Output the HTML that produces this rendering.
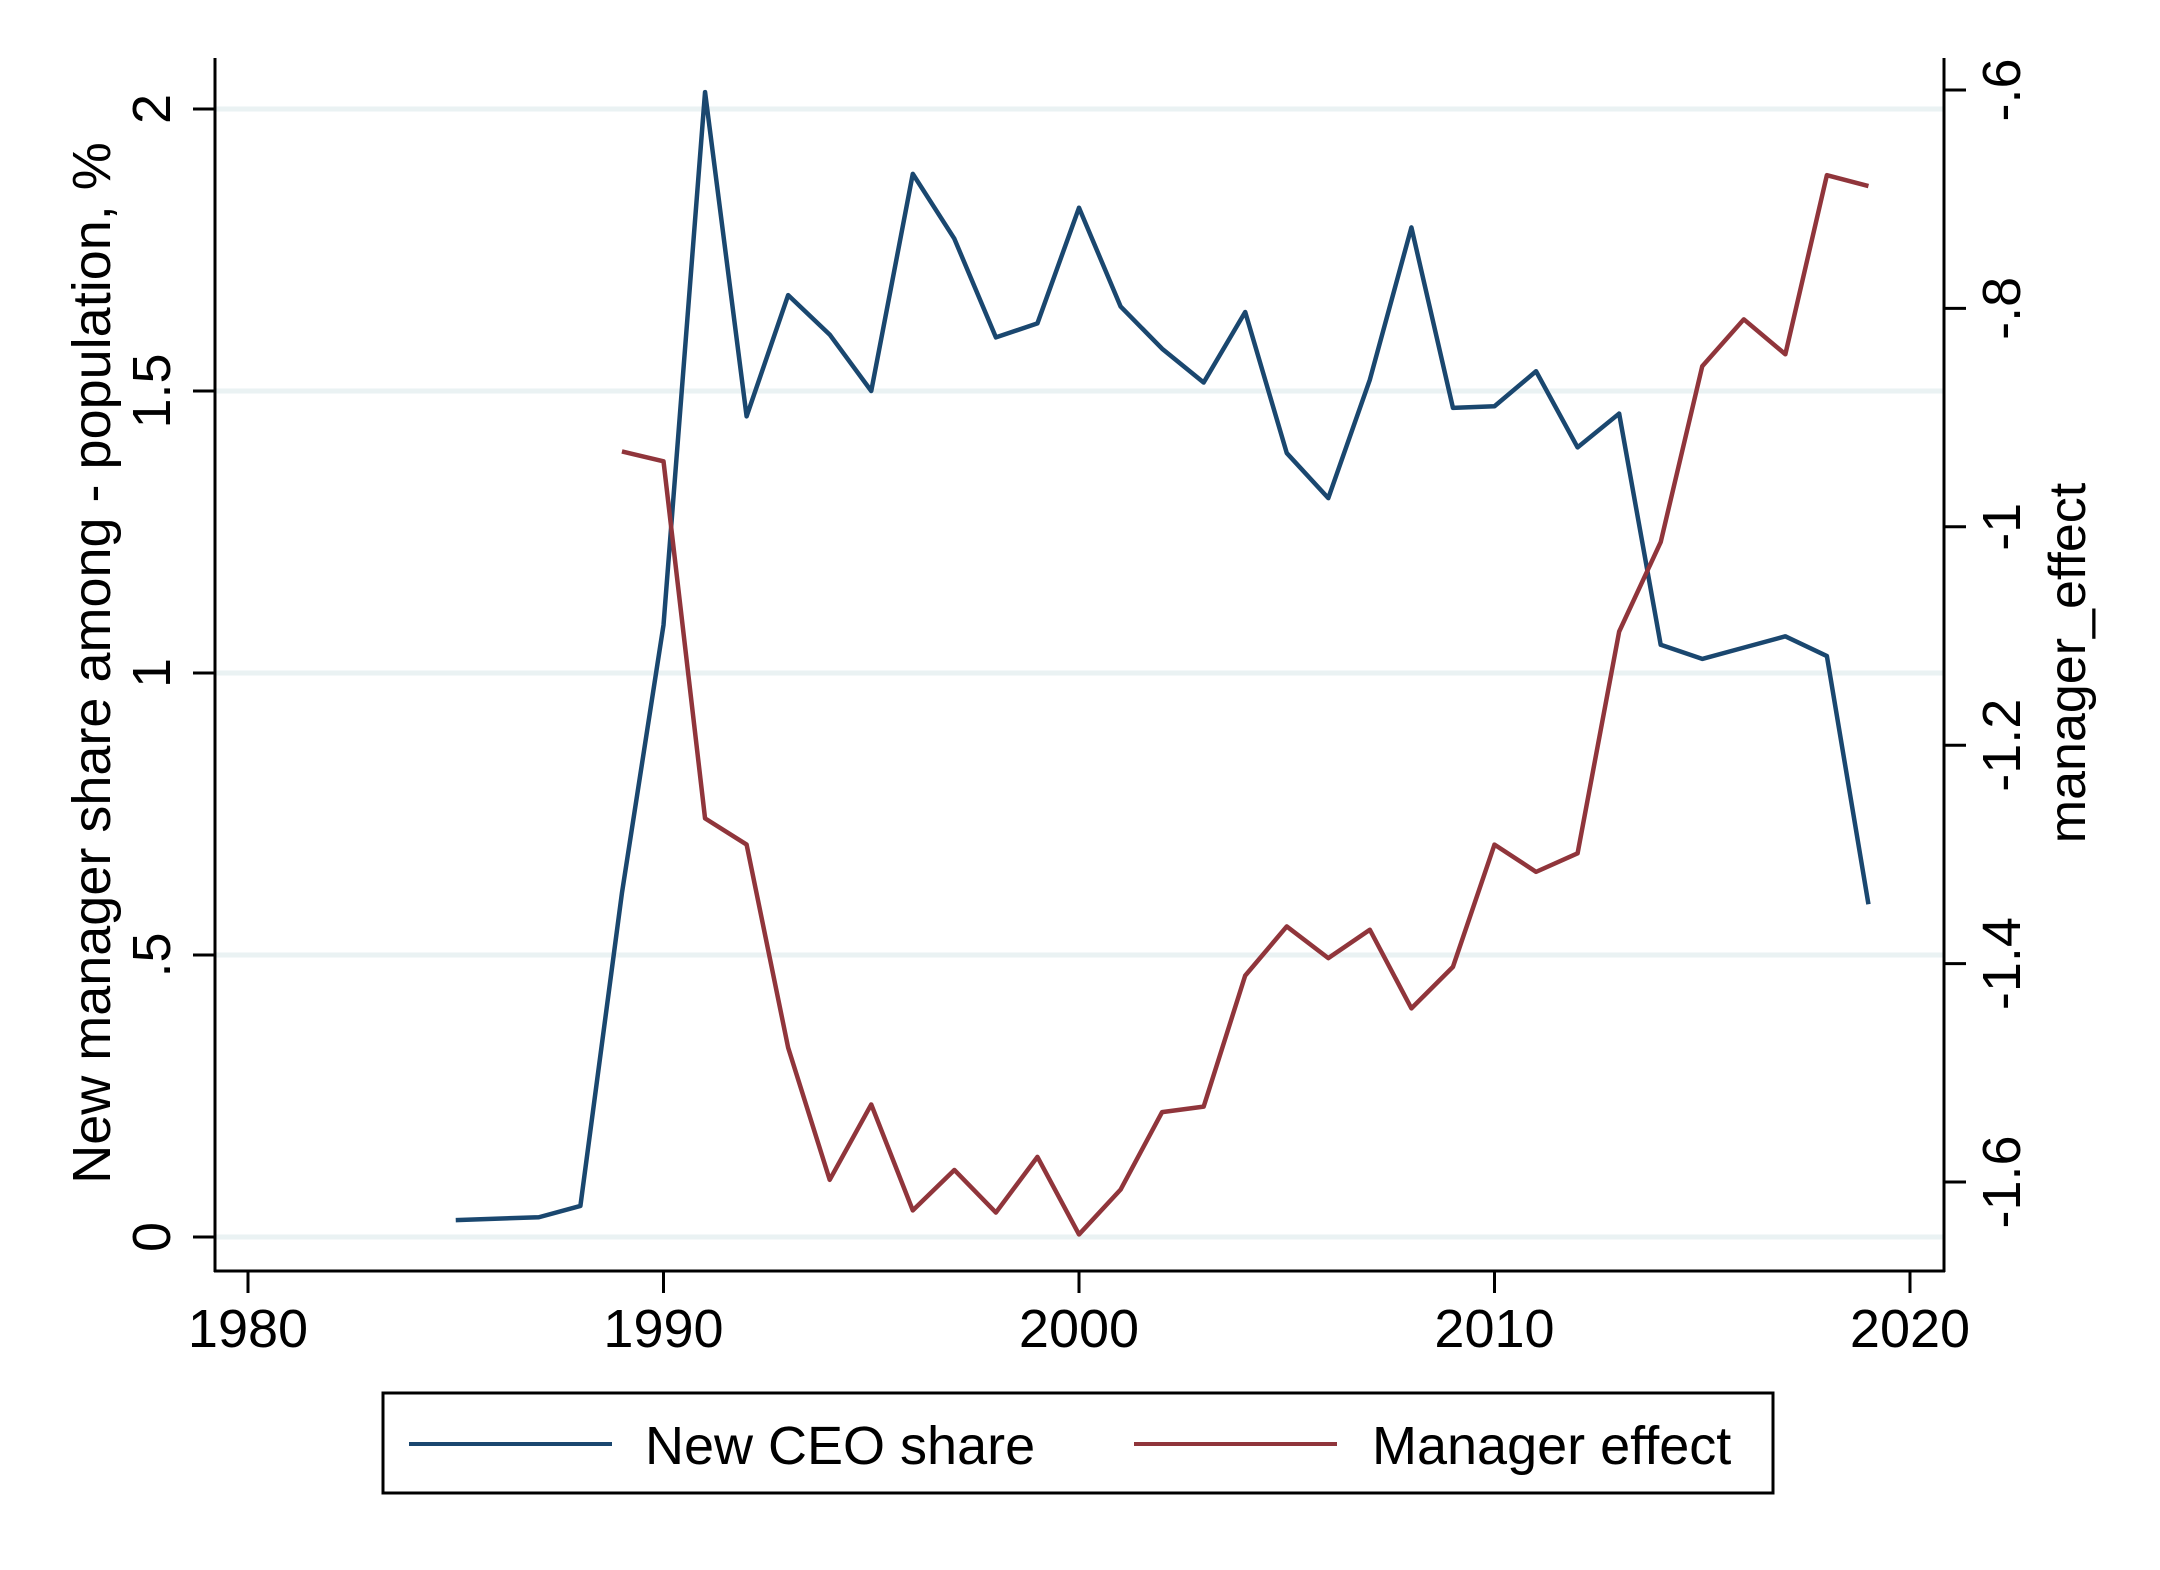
<!DOCTYPE html>
<html><head><meta charset="utf-8">
<style>html,body{margin:0;padding:0;background:#fff}svg{display:block}text{font-family:"Liberation Sans",Arial,sans-serif;fill:#000}</style>
</head><body>
<svg id="chart" width="2160" height="1570" viewBox="0 0 2160 1570" xmlns="http://www.w3.org/2000/svg">
<rect x="0" y="0" width="2160" height="1570" fill="#fff"/>
<g id="grid"></g>
<g id="axes"></g>
<g id="series"></g>
<g id="legend">
<rect x="383" y="1393" width="1390" height="100" fill="none" stroke="#000" stroke-width="3"/>
<line x1="409" y1="1444" x2="612" y2="1444" stroke="#1a476f" stroke-width="4"/>
<text x="645" y="1464" font-size="54">New CEO share</text>
<line x1="1134" y1="1444" x2="1337" y2="1444" stroke="#90353b" stroke-width="4"/>
<text x="1372" y="1464" font-size="54">Manager effect</text>
</g>
</svg>
<script>
const years = [1985,1987,1988,1989,1990,1991,1992,1993,1994,1995,1996,1997,1998,1999,2000,2001,2002,2003,2004,2005,2006,2007,2008,2009,2010,2011,2012,2013,2014,2015,2016,2017,2018,2019];
const ceoShare = [0.03,0.035,0.055,0.61,1.085,2.03,1.455,1.67,1.60,1.50,1.885,1.77,1.595,1.62,1.825,1.65,1.575,1.515,1.64,1.39,1.31,1.52,1.79,1.47,1.473,1.535,1.40,1.46,1.05,1.025,1.045,1.065,1.03,0.59];
const effectYears = [1989,1990,1991,1992,1993,1994,1995,1996,1997,1998,1999,2000,2001,2002,2003,2004,2005,2006,2007,2008,2009,2010,2011,2012,2013,2014,2015,2016,2017,2018,2019];
const managerEffect = [-0.931,-0.940,-1.267,-1.291,-1.477,-1.598,-1.529,-1.626,-1.589,-1.628,-1.577,-1.648,-1.607,-1.536,-1.531,-1.411,-1.366,-1.395,-1.369,-1.441,-1.403,-1.291,-1.316,-1.299,-1.096,-1.014,-0.853,-0.810,-0.842,-0.678,-0.688];
const xTicks = [1980,1990,2000,2010,2020];
const yLeftTicks = [0,0.5,1,1.5,2];
const yLeftLabels = ["0",".5","1","1.5","2"];
const yRightTicks = [-1.6,-1.4,-1.2,-1,-0.8,-0.6];
const yRightLabels = ["-1.6","-1.4","-1.2","-1","-.8","-.6"];

const NS = "http://www.w3.org/2000/svg";
const X = v => 248 + (v - 1980) * 41.55;
const YL = v => 1237 - v * 564;
const YR = v => 90 + (-0.6 - v) * 1092;
function mk(tag, attrs, parent){const e=document.createElementNS(NS,tag);for(const k in attrs)e.setAttribute(k,attrs[k]);parent.appendChild(e);return e;}
const grid=document.getElementById('grid'), axes=document.getElementById('axes'), series=document.getElementById('series');

yLeftTicks.forEach((t,i)=>{
  const g=mk('line',{x1:215,x2:1944,y1:YL(t),y2:YL(t),stroke:'#eaf2f3','stroke-width':5},grid);
  
  
  const tk=mk('line',{x1:193,x2:215,y1:YL(t),y2:YL(t),stroke:'#000','stroke-width':3},axes);
  
  
  const tx=mk('text',{x:0,y:0,'font-size':54,'text-anchor':'middle',transform:`translate(170,${YL(t)}) rotate(-90)`},axes);
  tx.textContent=yLeftLabels[i];
  
  
});
yRightTicks.forEach((t,i)=>{
  const tk=mk('line',{x1:1944,x2:1966,y1:YR(t),y2:YR(t),stroke:'#000','stroke-width':3},axes);
  
  
  const tx=mk('text',{x:0,y:0,'font-size':54,'text-anchor':'middle',transform:`translate(2020,${YR(t)}) rotate(-90)`},axes);
  tx.textContent=yRightLabels[i];
  
  
});
xTicks.forEach(t=>{
  const tk=mk('line',{x1:X(t),x2:X(t),y1:1271,y2:1293,stroke:'#000','stroke-width':3},axes);
  
  
  const tx=mk('text',{x:X(t),y:1347,'font-size':54,'text-anchor':'middle'},axes);
  tx.textContent=t;
  
  
});
let a=mk('line',{x1:215,x2:215,y1:58,y2:1272,stroke:'#000','stroke-width':3},axes);


a=mk('line',{x1:1944,x2:1944,y1:58,y2:1272,stroke:'#000','stroke-width':3},axes);


a=mk('line',{x1:214,x2:1945,y1:1271,y2:1271,stroke:'#000','stroke-width':3},axes);


let tt=mk('text',{x:0,y:0,'font-size':54,'text-anchor':'middle',transform:'translate(110,663) rotate(-90)'},axes);
tt.textContent='New manager share among - population, %';


tt=mk('text',{x:0,y:0,'font-size':52,'text-anchor':'middle',transform:'translate(2085,663) rotate(-90)'},axes);
tt.textContent='manager_effect';



let p=mk('polyline',{points:years.map((y,i)=>X(y)+','+YL(ceoShare[i])).join(' '),fill:'none',stroke:'#1a476f','stroke-width':4.5,'stroke-linejoin':'round'},series);


p=mk('polyline',{points:effectYears.map((y,i)=>X(y)+','+YR(managerEffect[i])).join(' '),fill:'none',stroke:'#90353b','stroke-width':4.5,'stroke-linejoin':'round'},series);


</script>
</body></html>
